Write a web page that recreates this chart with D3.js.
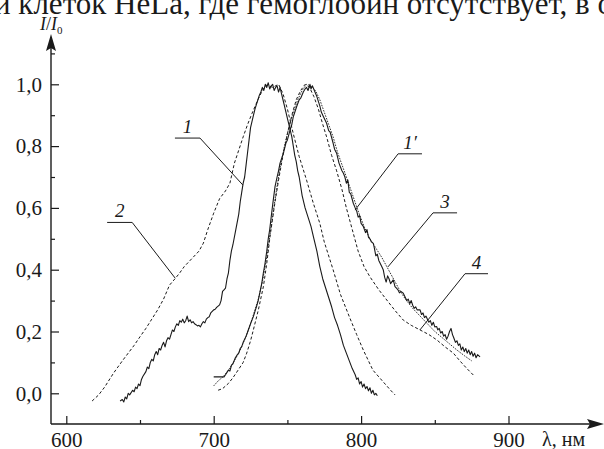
<!DOCTYPE html>
<html>
<head>
<meta charset="utf-8">
<title>Spectra</title>
<script src="https://d3js.org/d3.v7.min.js"></script>
<style>
    body { margin: 0; background: #fff; }
    svg { display: block; }
    text { font-family: "Liberation Serif", "Times New Roman", serif; fill: #1a1a1a; }
    .curve { fill: none; stroke: #1a1a1a; stroke-linejoin: round; }
</style>
</head>
<body>
<script>
    // wavelength, nm / relative intensity I/I0
    const curve1 = [
        [636.5,-0.025],[638,-0.02],[639,-0.028],[640,-0.012],[641,-0.018],[642,0.0],[643,-0.005],[645,0.01],
        [646,0.005],[647,0.02],[648,0.015],[649,0.03],[650,0.025],[651,0.045],[652,0.055],[654,0.07],
        [655,0.085],[656,0.08],[657,0.1],[658,0.11],[659,0.105],[660,0.125],[661,0.135],[662,0.125],
        [663,0.145],[664,0.14],[665,0.155],[666,0.165],[667,0.15],[668,0.17],[669,0.18],[670,0.175],
        [671,0.19],[672,0.205],[673,0.2],[674,0.215],[675,0.225],[676,0.22],[677,0.235],[678,0.23],
        [679,0.24],[680,0.228],[681,0.235],[682,0.25],[683,0.232],[684,0.238],[685,0.228],[686,0.232],
        [687,0.225],[688,0.222],[689,0.218],[690,0.22],[691,0.215],[692,0.225],[693,0.232],[694,0.228],
        [695,0.24],[696,0.245],[697,0.248],[698,0.26],[699,0.265],[700,0.27],[701,0.272],[702,0.278],
        [703,0.282],[704,0.286],[705,0.3],[706,0.33],[707,0.335],[708,0.34],[709,0.37],[710,0.39],
        [711,0.43],[712,0.46],[713,0.48],[715,0.53],[717,0.58],[718,0.62],[719,0.65],[720,0.68],
        [721,0.7],[722,0.74],[723,0.78],[724,0.82],[725,0.86],[726,0.88],[727,0.9],[728,0.92],
        [729,0.935],[730,0.95],[731,0.965],[732,0.975],[733,0.99],[734,0.98],[735,1.0],[736,0.99],
        [737,1.005],[738,0.985],[739,0.995],[740,1.0],[741,0.98],[742,0.99],[743,0.995],[744,0.975],
        [745,0.99],[746,0.97],[747,0.95],[748,0.93],[749,0.91],[750,0.89],[751,0.87],[752,0.85],
        [753,0.83],[754,0.8],[755,0.77],[756,0.75],[757,0.72],[758,0.7],[759,0.67],[760,0.64],
        [762,0.6],[764,0.57],[766,0.54],[768,0.5],[770,0.46],[772,0.41],[774,0.37],[776,0.34],
        [778,0.31],[780,0.28],[782,0.245],[784,0.22],[786,0.19],[788,0.155],[790,0.13],[792,0.105],
        [794,0.08],[796,0.06],[797,0.045],[798,0.05],[799,0.03],[800,0.038],[801,0.02],[802,0.03],
        [803,0.015],[804,0.022],[805,0.008],[806,0.018],[807,0.0],[808,0.01],[809,-0.005],[810,0.0],
        [811,-0.008]
    ];

    const curve2 = [
        [617.5,-0.025],[622,-0.005],[626,0.02],[630,0.05],[632,0.065],[635,0.085],[638.5,0.108],
        [642,0.13],[646,0.155],[650,0.183],[654,0.21],[658,0.24],[662,0.27],[666,0.305],[670,0.35],
        [674,0.372],[677,0.39],[680,0.41],[683,0.425],[686,0.44],[690,0.46],[693,0.486],[696,0.53],
        [700,0.583],[704,0.63],[708,0.655],[711,0.68],[714,0.744],[717,0.787],[720,0.83],[723,0.87],
        [726,0.906],[730,0.95],[733,0.98],[736,0.998],[740,0.99],[744,1.0],[747,0.97],[750,0.92],
        [754,0.84],[758,0.766],[763,0.69],[767.6,0.615],[772,0.55],[775,0.49],[781,0.4],[786,0.32],
        [792,0.248],[797,0.19],[801.5,0.14],[808,0.075],[815,0.037],[820,0.01],[823,-0.005]
    ];

    const curve1p = [
        [700,0.053],[703,0.053],[707,0.053],[708,0.06],[710,0.075],[711,0.072],[712,0.09],[713,0.095],
        [714.5,0.113],[716,0.125],[717,0.13],[718,0.145],[719,0.151],[720,0.165],[721,0.175],[722,0.185],
        [723.5,0.205],[725,0.225],[726.9,0.248],[728,0.265],[729,0.28],[730.3,0.302],[731.5,0.33],
        [732.6,0.356],[733.7,0.39],[734.8,0.42],[736,0.46],[737,0.5],[738,0.53],[739,0.57],[740,0.61],
        [741.6,0.669],[743,0.7],[744,0.72],[745,0.745],[747.3,0.777],[749,0.81],[750,0.82],[751.8,0.852],
        [753,0.87],[754,0.895],[756.3,0.928],[758,0.95],[759,0.955],[760.8,0.975],[762,0.985],[763,0.99],
        [764,0.98],[765.3,1.0],[766,0.985],[767,0.995],[768.7,0.975],[770,0.96],[771,0.945],[772,0.93],
        [773,0.91],[774,0.9],[776.6,0.874],[778,0.85],[779,0.845],[781,0.81],[782,0.79],[783.4,0.777],
        [785,0.745],[787,0.72],[788,0.712],[789,0.7],[790,0.68],[791,0.69],[792,0.65],[793,0.645],
        [794.7,0.615],[796,0.6],[797,0.59],[798,0.57],[799,0.575],[800,0.55],[801.5,0.54],[803,0.52],
        [804,0.53],[805,0.505],[806,0.5],[807,0.49],[808.3,0.485],[809,0.47],[810,0.445],[811,0.45],
        [812,0.43],[813,0.42],[814,0.41],[815,0.4],[816,0.375],[817,0.36],[818,0.38],[819,0.37],
        [820,0.355],[821.8,0.367],[823,0.345],[824,0.34],[825,0.335],[826,0.325],[827,0.33],[828.6,0.324],
        [830,0.31],[831,0.3],[832,0.305],[833,0.29],[834,0.3],[835,0.285],[836,0.275],[837,0.28],
        [838,0.27],[840,0.27],[841,0.255],[842,0.26],[843,0.245],[844,0.25],[845,0.24],[846,0.23],
        [847,0.235],[848,0.22],[849,0.23],[850,0.215],[851.3,0.216],[852,0.205],[853,0.21],[854,0.195],
        [855,0.2],[856,0.185],[857,0.19],[858,0.175],[859,0.185],[860,0.2],[861,0.21],[862,0.19],
        [862.6,0.183],[864,0.165],[865,0.17],[866,0.155],[867,0.16],[868,0.14],[869,0.15],[870,0.135],
        [871,0.145],[872,0.13],[873,0.14],[874,0.125],[875,0.135],[876,0.12],[877,0.13],[878,0.115],
        [879,0.125],[880.7,0.118]
    ];

    const curve3 = [
        [700,0.024],[703,0.04],[706.5,0.054],[710,0.075],[714,0.105],[718,0.14],[722,0.185],[726,0.24],
        [730,0.3],[733,0.36],[736,0.44],[739,0.54],[742,0.64],[745,0.73],[748,0.8],[751,0.86],
        [754,0.91],[757,0.95],[760,0.98],[763,1.0],[766,0.995],[769,0.98],[772,0.95],[775,0.91],
        [778,0.87],[781,0.83],[784,0.78],[787,0.74],[790,0.7],[794,0.645],[798,0.59],[802,0.54],
        [806,0.5],[810,0.47],[814,0.44],[818,0.405],[822,0.37],[826,0.335],[830,0.305],[835,0.275],
        [840,0.25],[845,0.225],[850,0.2],[855,0.18],[860,0.16],[865,0.14],[870,0.122],[875,0.105]
    ];

    const curve4 = [
        [703,0.01],[706,0.015],[710,0.032],[713,0.05],[716.7,0.076],[720,0.1],[722.4,0.13],[725,0.17],
        [726.9,0.205],[730.3,0.27],[733.7,0.345],[736,0.42],[738.2,0.507],[741,0.6],[744,0.69],
        [747,0.77],[750,0.84],[753,0.9],[756,0.95],[759,0.98],[762,1.0],[765,0.99],[768,0.96],
        [771,0.92],[774,0.87],[776.6,0.83],[780,0.77],[783.4,0.72],[787,0.66],[790,0.6],[794,0.53],
        [798,0.46],[802,0.41],[806,0.377],[812,0.335],[817.4,0.302],[823,0.268],[828.6,0.237],
        [834,0.22],[840,0.205],[846,0.19],[851.3,0.173],[857,0.15],[862.6,0.13],[867,0.105],
        [871.6,0.081],[877,0.055]
    ];

    const xMajor = [600, 700, 800, 900];
    const xMinor = [650, 750, 850];
    const yMajor = [0, 0.2, 0.4, 0.6, 0.8, 1.0];
    const yMinor = [0.1, 0.3, 0.5, 0.7, 0.9, 1.1];

    // curve labels: text, point on the curve, elbow, end of underline (data units)
    const labels = [
        { name: "1",  tip: [719.8, 0.674], elbow: [690.7, 0.826], end: 673.7 },
        { name: "2",  tip: [673.8, 0.373], elbow: [644.7, 0.553], end: 627.7 },
        { name: "1′", tip: [795.9, 0.593], elbow: [825.1, 0.775], end: 841.3 },
        { name: "3",  tip: [818.2, 0.409], elbow: [848.8, 0.584], end: 865.1 },
        { name: "4",  tip: [839.9, 0.205], elbow: [870.5, 0.387], end: 886.1 }
    ];

    const width = 604, height = 449;
    const serif = '"Liberation Serif", "Times New Roman", serif';

    const x = d3.scaleLinear().domain([600, 900]).range([66.3, 508.5]);
    const y = d3.scaleLinear().domain([0, 1]).range([393.3, 84.3]);

    const svg = d3.select("body").append("svg")
        .attr("width", width)
        .attr("height", height);

    // cut-off line of page text above the figure
    svg.append("text")
        .attr("x", -6)
        .attr("y", 14)
        .style("font-family", serif)
        .style("font-size", "31px")
        .text("и клеток HeLa, где гемоглобин отсутствует, в об");

    const axisX = 51, axisY = 424;

    // axis lines with arrows
    svg.append("line")
        .attr("x1", axisX).attr("y1", axisY)
        .attr("x2", 598).attr("y2", axisY)
        .style("stroke", "#1a1a1a").style("stroke-width", 1.4);
    svg.append("path")
        .attr("d", `M604,${axisY} L587,${axisY - 5} L590,${axisY} L587,${axisY + 5} Z`)
        .style("fill", "#1a1a1a");

    svg.append("line")
        .attr("x1", axisX).attr("y1", axisY)
        .attr("x2", axisX).attr("y2", 40)
        .style("stroke", "#1a1a1a").style("stroke-width", 1.4);
    svg.append("path")
        .attr("d", `M${axisX},34 L${axisX - 5},51 L${axisX},48 L${axisX + 5},51 Z`)
        .style("fill", "#1a1a1a");

    const fmt = d => d3.format(".1f")(d).replace(".", ",");

    const gx = svg.append("g").attr("transform", `translate(0,${axisY})`);
    gx.call(d3.axisBottom(x).tickValues(xMajor).tickSizeInner(-8).tickSizeOuter(0).tickPadding(8));
    gx.append("g").call(d3.axisBottom(x).tickValues(xMinor).tickSizeInner(-4).tickSizeOuter(0).tickFormat(""));

    const gy = svg.append("g").attr("transform", `translate(${axisX},0)`);
    gy.call(d3.axisLeft(y).tickValues(yMajor).tickSizeInner(-8).tickSizeOuter(0).tickPadding(9).tickFormat(fmt));
    gy.append("g").call(d3.axisLeft(y).tickValues(yMinor).tickSizeInner(-4).tickSizeOuter(0).tickFormat(""));

    svg.selectAll(".domain").remove();
    svg.selectAll(".tick line").style("stroke", "#1a1a1a").style("stroke-width", 1.2);
    svg.selectAll("g").attr("font-family", null);
    svg.selectAll(".tick text")
        .style("font-family", serif)
        .style("font-size", "21px")
        .style("fill", "#1a1a1a");

    // axis titles
    const yTitle = svg.append("text").attr("x", 40).attr("y", 30)
        .style("font-family", serif)
        .style("font-size", "18px");
    yTitle.append("tspan").style("font-style", "italic").text("I");
    yTitle.append("tspan").text("/");
    yTitle.append("tspan").style("font-style", "italic").text("I");
    yTitle.append("tspan").attr("dy", 4).style("font-size", "11px").text("0");

    svg.append("text").attr("x", 542).attr("y", 446)
        .style("font-family", serif)
        .style("font-size", "20px")
        .text("λ, нм");

    // curves
    const line = d3.line().x(d => x(d[0])).y(d => y(d[1]));

    const series = [
        { data: curve2, dash: "3,2.2", w: 1 },
        { data: curve4, dash: "3,2.2", w: 1 },
        { data: curve3, dash: "1.6,1.2", w: 0.9 },
        { data: curve1, dash: null, w: 1.1 },
        { data: curve1p, dash: null, w: 1.1 }
    ];

    svg.selectAll(".curve")
        .data(series)
        .join("path")
        .attr("class", "curve")
        .attr("d", d => line(d.data))
        .style("stroke-width", d => d.w)
        .style("stroke-dasharray", d => d.dash);

    // leader lines and curve numbers
    const lab = svg.selectAll(".lab").data(labels).join("g").attr("class", "lab");
    lab.append("polyline")
        .attr("points", d => [
            [x(d.tip[0]), y(d.tip[1])],
            [x(d.elbow[0]), y(d.elbow[1])],
            [x(d.end), y(d.elbow[1])]
        ].join(" "))
        .style("fill", "none")
        .style("stroke", "#1a1a1a")
        .style("stroke-width", 1);
    lab.append("text")
        .attr("x", d => (x(d.elbow[0]) + x(d.end)) / 2)
        .attr("y", d => y(d.elbow[1]) - 5)
        .attr("text-anchor", "middle")
        .style("font-family", serif)
        .style("font-size", "19px")
        .style("font-style", "italic")
        .text(d => d.name);
</script>
</body>
</html>
